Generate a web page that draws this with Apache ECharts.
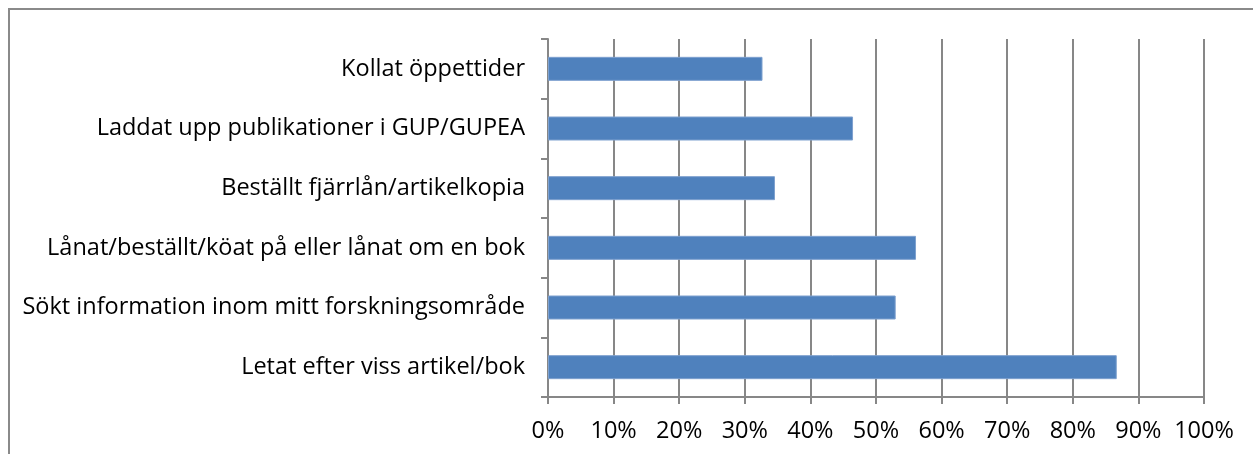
<!DOCTYPE html>
<html>
<head>
<meta charset="utf-8">
<script src="https://cdn.jsdelivr.net/npm/echarts@6/dist/echarts.min.js"></script>
<style>
  html, body { margin: 0; padding: 0; background: #fff; }
  #chart { width: 1253px; height: 454px; }
</style>
</head>
<body>
<div id="chart"></div>
<script>
// categories listed bottom to top
const categories = [
  'Letat efter viss artikel/bok',
  'Sökt information inom mitt forskningsområde',
  'Lånat/beställt/köat på eller lånat om en bok',
  'Beställt fjärrlån/artikelkopia',
  'Laddat upp publikationer i GUP/GUPEA',
  'Kollat öppettider'
];
const shares = [0.867, 0.530, 0.561, 0.346, 0.465, 0.327];

const axisGrey = '#878787';
const font = '"Open Sans", sans-serif';

const chart = echarts.init(document.getElementById('chart'));

chart.setOption({
  animation: false,
  graphic: [{
    type: 'rect',
    shape: { x: 9, y: 9, width: 1300, height: 500 },
    style: { fill: 'none', stroke: '#8a8a8a', lineWidth: 2 },
    silent: true
  }],
  grid: {
    left: 548,
    right: 49,
    top: 39,
    bottom: 57
  },
  xAxis: {
    type: 'value',
    min: 0,
    max: 1,
    interval: 0.1,
    axisLine: { show: true, lineStyle: { color: axisGrey, width: 2 } },
    axisTick: { show: true, length: 7, lineStyle: { color: axisGrey, width: 2 } },
    splitLine: { show: true, lineStyle: { color: axisGrey, width: 2 } },
    axisLabel: {
      color: '#000',
      fontFamily: font,
      fontSize: 23.5,
      margin: 22,
      formatter: v => Math.round(v * 100) + '%'
    }
  },
  yAxis: {
    type: 'category',
    data: categories,
    axisLine: { show: true, lineStyle: { color: axisGrey, width: 2 } },
    axisTick: { show: true, length: 7, lineStyle: { color: axisGrey, width: 2 } },
    axisLabel: {
      color: '#000',
      fontFamily: font,
      fontSize: 23.5,
      margin: 23
    }
  },
  series: [{
    type: 'bar',
    data: shares,
    barWidth: 24,
    itemStyle: {
      color: '#4f81bd',
      borderColor: '#7ea1cf',
      borderWidth: 1
    }
  }]
});
</script>
</body>
</html>
